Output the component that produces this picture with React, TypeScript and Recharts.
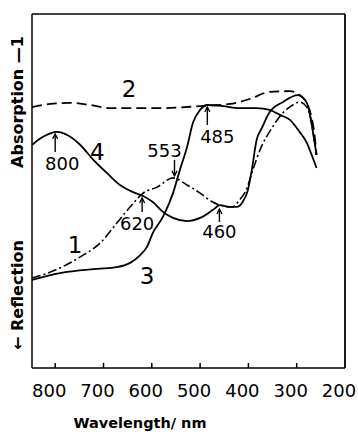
import { LineChart, Line, XAxis, YAxis, ReferenceDot } from "recharts"

// wavelength ticks (nm), axis runs right-to-left
const wavelengthTicks = [800, 700, 600, 500, 400, 300, 200]

// [wavelength nm, relative absorption 0..100]
const curve1: [number, number][] = [
  [848, 25.4], [810, 27.1], [748, 31.4], [707, 35.3], [672, 41.0], [645, 45.5], [618, 49.4],
  [589, 51.1], [556, 53.7], [527, 51.7], [500, 49.4], [474, 46.9], [459, 46.0], [434, 45.5],
  [418, 47.5], [403, 50.8], [391, 55.9], [376, 61.6], [350, 68.1], [329, 72.0], [308, 74.3],
  [294, 75.1], [279, 73.7], [269, 69.2], [263, 63.6], [259, 60.2],
]
const curve2: [number, number][] = [
  [848, 73.7], [810, 74.6], [769, 74.9], [728, 74.3], [686, 73.4], [583, 73.4], [500, 74.0],
  [438, 74.6], [397, 76.0], [356, 78.0], [314, 78.2], [294, 77.1], [279, 74.9], [269, 70.6],
  [263, 65.8], [259, 60.2],
]
const curve3: [number, number][] = [
  [848, 24.9], [790, 26.8], [713, 28.0], [672, 28.5], [645, 29.7], [624, 31.9], [610, 34.2],
  [598, 38.1], [577, 42.7], [556, 49.4], [542, 55.9], [527, 62.4], [515, 69.2], [500, 72.9],
  [486, 74.3], [453, 74.0], [418, 73.4], [383, 73.4], [356, 72.9], [335, 71.5], [314, 70.1],
  [294, 66.7], [279, 63.6], [269, 60.2], [259, 56.5],
]
const curve4: [number, number][] = [
  [848, 63.0], [825, 65.3], [796, 66.7], [775, 65.8], [748, 63.0], [721, 58.8], [693, 55.1],
  [666, 51.7], [639, 49.7], [618, 48.6], [598, 46.9], [577, 44.1], [556, 42.4], [527, 41.5],
  [500, 42.4], [474, 44.6], [459, 46.0], [438, 45.5], [424, 45.5], [412, 46.9], [401, 50.3],
  [393, 55.9], [383, 64.4], [372, 67.8], [356, 72.3], [329, 75.1], [298, 77.1], [279, 74.9],
  [267, 67.2], [259, 60.2],
]

// peak annotations
const peakLabels = ["800", "553", "485", "620", "460"]
const peakWl = [800, 553, 485, 620, 460]
const peakVal = [66.7, 53.7, 74.3, 48.6, 45.5]

// curve numbers
const curveNames = ["1", "2", "3", "4"]
const curveNameWl = [759, 647, 610, 713]
const curveNameVal = [34.7, 78.8, 26.0, 61.0]

const toRows = (pts: [number, number][]) => pts.map(([wl, v]) => ({ wl, v }))

const FONT = "'DejaVu Sans', sans-serif"

// arrow/text placement per annotation: dx of text, baseline dy, arrow from/to (relative to the curve point)
const annotLayout: Record<string, { dx: number; dy: number; a0: number; a1: number; down?: boolean }> = {
  "800": { dx: 7, dy: 38, a0: 2, a1: 20 },
  "553": { dx: -10, dy: -21, a0: -18, a1: -2, down: true },
  "485": { dx: 10, dy: 38, a0: 2, a1: 20 },
  "620": { dx: -5, dy: 34, a0: 2, a1: 16 },
  "460": { dx: 0, dy: 31, a0: 2, a1: 15 },
}

function BottomTick(props: any) {
  const { x, y, payload } = props
  return (
    <g>
      {payload.value !== 200 && <line x1={x} x2={x} y1={y} y2={y - 5} stroke="#000" strokeWidth={1.5} />}
      <text x={x - 6} y={y + 29} textAnchor="middle" fontFamily={FONT} fontSize={18} fill="#000">
        {payload.value}
      </text>
    </g>
  )
}

function TopTick(props: any) {
  const { x, y, payload } = props
  if (payload.value === 200) return <g />
  return <line x1={x} x2={x} y1={y} y2={y + 6} stroke="#000" strokeWidth={1.5} />
}

export default function App() {
  return (
    <div style={{ position: "absolute", left: 0, top: 0, width: 358, height: 432, background: "#fff" }}>
      <LineChart width={358} height={432} margin={{ top: 13, right: 12, bottom: 34, left: 31 }}>
        <XAxis
          dataKey="wl"
          type="number"
          domain={[200, 848]}
          reversed
          ticks={wavelengthTicks}
          interval={0}
          height={30}
          tickSize={0}
          tickMargin={0}
          tickLine={false}
          tick={<BottomTick />}
          axisLine={{ stroke: "#000", strokeWidth: 1.5 }}
        />
        <XAxis
          xAxisId="top"
          orientation="top"
          dataKey="wl"
          type="number"
          domain={[200, 848]}
          reversed
          ticks={wavelengthTicks}
          interval={0}
          height={1}
          tickSize={0}
          tickMargin={0}
          tickLine={false}
          tick={<TopTick />}
          axisLine={{ stroke: "#000", strokeWidth: 1.5 }}
        />
        <YAxis type="number" domain={[0, 100]} width={1} tick={false} tickLine={false} axisLine={{ stroke: "#000", strokeWidth: 1.5 }} />
        <YAxis yAxisId="r" orientation="right" type="number" domain={[0, 100]} width={1} tick={false} tickLine={false} axisLine={{ stroke: "#000", strokeWidth: 1.8 }} />

        <Line data={toRows(curve2)} dataKey="v" type="monotone" stroke="#000" strokeWidth={1.8} strokeDasharray="10 5" dot={false} isAnimationActive={false} />
        <Line data={toRows(curve1)} dataKey="v" type="monotone" stroke="#000" strokeWidth={1.6} strokeDasharray="9 3 2 3" dot={false} isAnimationActive={false} />
        <Line data={toRows(curve3)} dataKey="v" type="monotone" stroke="#000" strokeWidth={1.8} dot={false} isAnimationActive={false} />
        <Line data={toRows(curve4)} dataKey="v" type="monotone" stroke="#000" strokeWidth={1.8} dot={false} isAnimationActive={false} />

        {peakLabels.map((lab, i) => (
          <ReferenceDot
            key={lab}
            x={peakWl[i]}
            y={peakVal[i]}
            r={0}
            ifOverflow="visible"
            shape={(p: any) => {
              const L = annotLayout[lab]
              const { cx, cy } = p
              const tipY = L.down ? cy + L.a1 : cy + L.a0
              const s = L.down ? -1 : 1
              return (
                <g>
                  <line x1={cx} x2={cx} y1={cy + L.a0} y2={cy + L.a1} stroke="#000" strokeWidth={1.4} />
                  <polyline points={`${cx - 2.5},${tipY + 5 * s} ${cx},${tipY} ${cx + 2.5},${tipY + 5 * s}`} fill="none" stroke="#000" strokeWidth={1.3} />
                  <text x={cx + L.dx} y={cy + L.dy} textAnchor="middle" fontFamily={FONT} fontSize={18} fill="#000">
                    {lab}
                  </text>
                </g>
              )
            }}
          />
        ))}

        {curveNames.map((name, i) => (
          <ReferenceDot
            key={"c" + name}
            x={curveNameWl[i]}
            y={curveNameVal[i]}
            r={0}
            ifOverflow="visible"
            shape={(p: any) => (
              <text x={p.cx} y={p.cy + 8} textAnchor="middle" fontFamily={FONT} fontSize={23} fill="#000">
                {name}
              </text>
            )}
          />
        ))}

        <text transform="translate(23,102) rotate(-90)" textAnchor="middle" fontFamily={FONT} fontWeight="bold" fontSize={16} fill="#000">
          Absorption —1
        </text>
        <text transform="translate(23,295) rotate(-90)" textAnchor="middle" fontFamily={FONT} fontWeight="bold" fontSize={16} fill="#000">
          ← Reflection
        </text>
        <text x={140} y={428} textAnchor="middle" fontFamily={FONT} fontWeight="bold" fontSize={14.5} fill="#000">
          Wavelength/ nm
        </text>
      </LineChart>
    </div>
  )
}
